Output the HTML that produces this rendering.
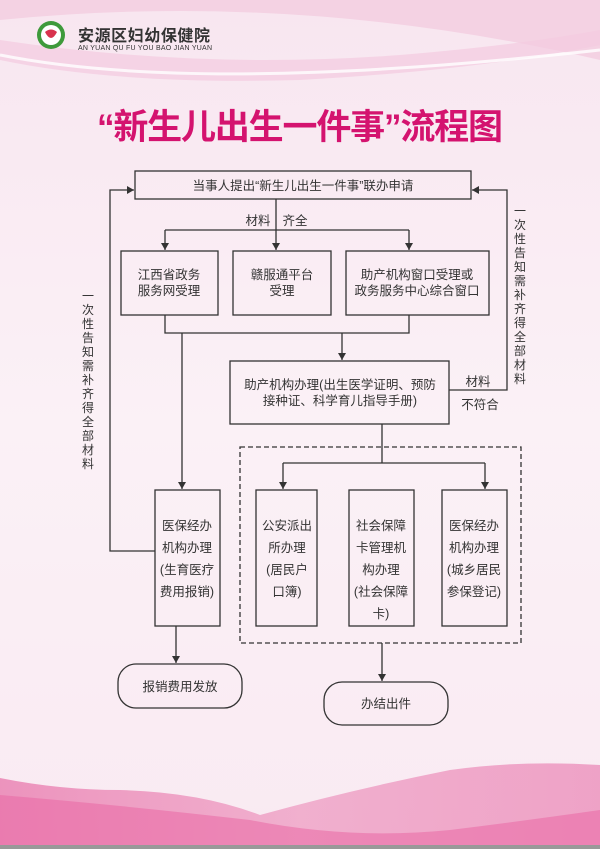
<!DOCTYPE html>
<html><head><meta charset="utf-8"><style>
html,body{margin:0;padding:0;width:600px;height:849px;overflow:hidden}
svg{display:block}
text{font-family:"Liberation Sans","Noto Sans CJK SC",sans-serif;fill:#333}
</style></head><body>
<svg width="600" height="849" viewBox="0 0 600 849" xmlns="http://www.w3.org/2000/svg">
<defs>
<linearGradient id="bg" x1="0" y1="0" x2="0" y2="1"><stop offset="0" stop-color="#f8e6f0"/><stop offset="0.5" stop-color="#fbf1f6"/><stop offset="1" stop-color="#f9eaf2"/></linearGradient>
<linearGradient id="w1" x1="0" y1="0" x2="1" y2="0"><stop offset="0" stop-color="#e876ab"/><stop offset="0.5" stop-color="#ee9cc2"/><stop offset="1" stop-color="#eb8ab8"/></linearGradient>
<marker id="a" markerWidth="8" markerHeight="8" refX="7" refY="4" orient="auto" markerUnits="userSpaceOnUse"><path d="M0,0 L7,4 L0,8z" fill="#333"/></marker>
</defs>
<rect width="600" height="849" fill="url(#bg)"/>
<path d="M0,20 Q300,-10 600,60 L600,0 L0,0z" fill="#f2c4da" opacity="0.6"/>
<path d="M0,40 Q200,70 400,55 Q520,45 600,30 L600,45 Q480,70 300,80 Q120,85 0,60z" fill="#f4cbe0" opacity="0.7"/>
<path d="M0,55 Q200,95 600,50" fill="none" stroke="#fff" stroke-width="3" opacity="0.8"/>
<path d="M0,778 Q60,790 120,790 Q200,792 260,815 Q350,790 450,770 Q520,760 600,765 L600,849 L0,849z" fill="url(#w1)" opacity="0.75"/>
<path d="M0,795 Q120,805 250,820 Q350,840 450,830 Q530,820 600,810 L600,849 L0,849z" fill="#e968a4" opacity="0.55"/>
<rect x="0" y="845" width="600" height="4" fill="#999"/>
<circle cx="51" cy="35" r="14" fill="#3e9a3b"/><circle cx="51" cy="35" r="10" fill="#fff"/><path d="M45,32 Q51,27 57,32 Q51,44 45,32z" fill="#d8334e"/>
<text x="78" y="41" font-size="16" font-weight="bold" fill="#222" textLength="132">安源区妇幼保健院</text>
<text x="78" y="50" font-size="7" fill="#333" textLength="134">AN YUAN QU FU YOU BAO JIAN YUAN</text>
<text x="97" y="139" font-size="35" font-weight="bold" style="fill:#d4136f" textLength="406">“新生儿出生一件事”流程图</text>
<g fill="none" stroke="#333" stroke-width="1.3">
<rect x="135" y="171" width="336" height="28"/>
<rect x="121" y="251" width="97" height="64"/>
<rect x="233" y="251" width="98" height="64"/>
<rect x="346" y="251" width="143" height="64"/>
<rect x="230" y="361" width="219" height="63"/>
<rect x="155" y="490" width="65" height="136"/>
<rect x="256" y="490" width="61" height="136"/>
<rect x="349" y="490" width="65" height="136"/>
<rect x="442" y="490" width="65" height="136"/>
<rect x="118" y="664" width="124" height="44" rx="18"/>
<rect x="324" y="682" width="124" height="43" rx="18"/>
<rect x="240" y="447" width="281" height="196" stroke-dasharray="5,3"/>
<path d="M276,199 V250" marker-end="url(#a)"/>
<path d="M165,230 H409"/>
<path d="M165,230 V250" marker-end="url(#a)"/><path d="M409,230 V250" marker-end="url(#a)"/>
<path d="M165,315 V333 H409 V315"/>
<path d="M342,333 V360" marker-end="url(#a)"/>
<path d="M182,333 V489" marker-end="url(#a)"/>
<path d="M449,390 H507 V190 H472" marker-end="url(#a)"/>
<path d="M155,551 H110 V190 H134" marker-end="url(#a)"/>
<path d="M382,424 V463"/>
<path d="M283,463 H485"/>
<path d="M283,463 V489" marker-end="url(#a)"/>
<path d="M485,463 V489" marker-end="url(#a)"/>
<path d="M176,626 V663" marker-end="url(#a)"/>
<path d="M382,643 V681" marker-end="url(#a)"/>
</g>
<g font-size="12.5" text-anchor="middle">
<text x="303" y="190">当事人提出“新生儿出生一件事”联办申请</text>
<text x="258" y="225">材料</text><text x="295" y="225">齐全</text>
<text x="169" y="279">江西省政务</text><text x="169" y="295">服务网受理</text>
<text x="282" y="279">赣服通平台</text><text x="282" y="295">受理</text>
<text x="417" y="279">助产机构窗口受理或</text><text x="417" y="295">政务服务中心综合窗口</text>
<text x="340" y="389">助产机构办理(出生医学证明、预防</text><text x="340" y="405">接种证、科学育儿指导手册)</text>
<text x="478" y="386">材料</text><text x="480" y="409">不符合</text>
<text x="187" y="530">医保经办</text><text x="187" y="552">机构办理</text><text x="187" y="574">(生育医疗</text><text x="187" y="596">费用报销)</text>
<text x="287" y="530">公安派出</text><text x="287" y="552">所办理</text><text x="287" y="574">(居民户</text><text x="287" y="596">口簿)</text>
<text x="381" y="530">社会保障</text><text x="381" y="552">卡管理机</text><text x="381" y="574">构办理</text><text x="381" y="596">(社会保障</text><text x="381" y="618">卡)</text>
<text x="474" y="530">医保经办</text><text x="474" y="552">机构办理</text><text x="474" y="574">(城乡居民</text><text x="474" y="596">参保登记)</text>
<text x="180" y="691">报销费用发放</text>
<text x="386" y="708">办结出件</text>
</g>
<g font-size="12" text-anchor="middle">
<text x="88" y="300">一</text><text x="88" y="314">次</text><text x="88" y="328">性</text><text x="88" y="342">告</text><text x="88" y="356">知</text><text x="88" y="370">需</text><text x="88" y="384">补</text><text x="88" y="398">齐</text><text x="88" y="412">得</text><text x="88" y="426">全</text><text x="88" y="440">部</text><text x="88" y="454">材</text><text x="88" y="468">料</text>
<text x="520" y="215">一</text><text x="520" y="229">次</text><text x="520" y="243">性</text><text x="520" y="257">告</text><text x="520" y="271">知</text><text x="520" y="285">需</text><text x="520" y="299">补</text><text x="520" y="313">齐</text><text x="520" y="327">得</text><text x="520" y="341">全</text><text x="520" y="355">部</text><text x="520" y="369">材</text><text x="520" y="383">料</text>
</g>
</svg>
</body></html>
